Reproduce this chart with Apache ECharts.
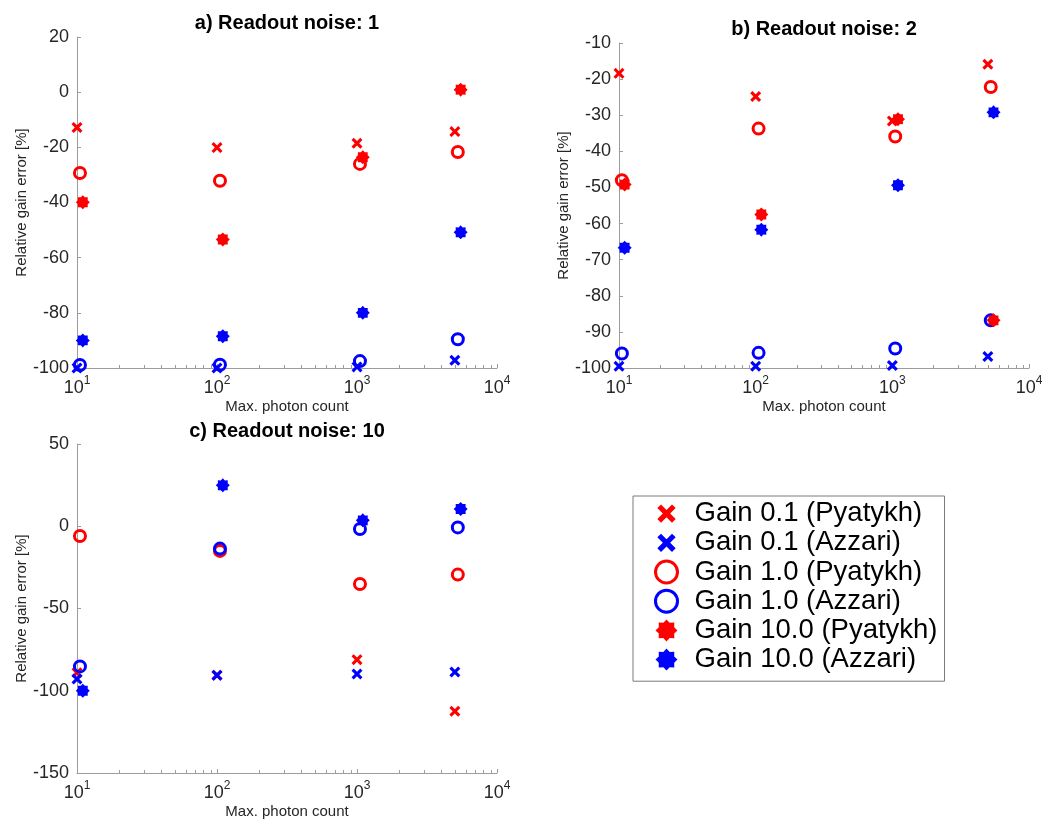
<!DOCTYPE html>
<html>
<head>
<meta charset="utf-8">
<script src="https://cdn.jsdelivr.net/npm/echarts@6/dist/echarts.min.js"></script>
<style>
  html, body { margin: 0; padding: 0; background: #fff; }
  #main { width: 1046px; height: 821px; }
</style>
</head>
<body>
<div id="main"></div>
<script>
var dom = document.getElementById('main');
var myChart = echarts.init(dom);
var option;

// x positions (max. photon count); markers are nudged right per gain so they don't overlap
var photonCounts = [10, 100, 1000, 5000];
var seriesNames = [
    'Gain 0.1 (Pyatykh)', 'Gain 0.1 (Azzari)',
    'Gain 1.0 (Pyatykh)', 'Gain 1.0 (Azzari)',
    'Gain 10.0 (Pyatykh)', 'Gain 10.0 (Azzari)'
];
var xNudge = [1, 1, 1.05, 1.05, 1.1, 1.1];

// a) readout noise 1
var n1Gain01Pyatykh = [-12.8, -20.1, -18.5, -14.3];
var n1Gain01Azzari = [-100, -100, -99.6, -97.2];
var n1Gain1Pyatykh = [-29.3, -32.1, -26.0, -21.7];
var n1Gain1Azzari = [-98.9, -98.8, -97.5, -89.6];
var n1Gain10Pyatykh = [-39.9, -53.4, -23.6, 0.9];
var n1Gain10Azzari = [-90, -88.5, -80, -50.8];

// b) readout noise 2
var n2Gain01Pyatykh = [-18.4, -24.8, -31.6, -15.9];
var n2Gain01Azzari = [-99.5, -99.5, -99.3, -96.8];
var n2Gain1Pyatykh = [-48, -33.7, -35.9, -22.2];
var n2Gain1Azzari = [-96, -95.8, -94.6, -86.8];
var n2Gain10Pyatykh = [-49.2, -57.5, -31.1, -86.8];
var n2Gain10Azzari = [-66.7, -61.7, -49.4, -29.2];

// c) readout noise 10 (gain 10 Pyatykh not visible in the plot)
var n10Gain01Pyatykh = [-89, -90.6, -81.1, -112.5];
var n10Gain01Azzari = [-92.9, -90.6, -89.8, -88.6];
var n10Gain1Pyatykh = [-5.9, -15, -35.1, -29.4];
var n10Gain1Azzari = [-85.2, -13.6, -1.7, -0.7];
var n10Gain10Pyatykh = ['-', '-', '-', '-'];
var n10Gain10Azzari = [-100, 24.9, 3.6, 10.5];

var panelTitles = ['a) Readout noise: 1', 'b) Readout noise: 2', 'c) Readout noise: 10'];
var yMins = [-100, -100, -150];
var yMaxs = [20, -10, 50];
var yIntervals = [20, 10, 50];

var panels = [
    [n1Gain01Pyatykh, n1Gain01Azzari, n1Gain1Pyatykh, n1Gain1Azzari, n1Gain10Pyatykh, n1Gain10Azzari],
    [n2Gain01Pyatykh, n2Gain01Azzari, n2Gain1Pyatykh, n2Gain1Azzari, n2Gain10Pyatykh, n2Gain10Azzari],
    [n10Gain01Pyatykh, n10Gain01Azzari, n10Gain1Pyatykh, n10Gain1Azzari, n10Gain10Pyatykh, n10Gain10Azzari]
];

var FONT = '"Liberation Sans", Arial, Helvetica, sans-serif';
var AXIS_COLOR = '#9c9c9c';
var TEXT_COLOR = '#262626';
var RED = '#ff0000';
var BLUE = '#0000ff';

// marker shapes
var crossShape = 'M0,2 L2,0 L5,3 L8,0 L10,2 L7,5 L10,8 L8,10 L5,7 L2,10 L0,8 L3,5 Z';
var crossPath = 'path://' + crossShape;
// same cross with some empty margin so it stays smaller in the legend
var crossLegendPath = 'path://M-1,-1 M11,11 ' + crossShape;
function starPath(n, rIn) {
    var d = '';
    for (var i = 0; i < 2 * n; i++) {
        var r = i % 2 ? rIn : 1;
        var a = Math.PI * i / n - Math.PI / 2;
        d += (i ? 'L' : 'M') + (10 + 10 * r * Math.cos(a)).toFixed(2) + ',' + (10 + 10 * r * Math.sin(a)).toFixed(2) + ' ';
    }
    return 'path://' + d + 'Z';
}
var asteriskPath = starPath(8, 0.76);

var markerStyles = [
    { symbol: crossPath, symbolSize: 11, itemStyle: { color: RED, opacity: 1 } },
    { symbol: crossPath, symbolSize: 11, itemStyle: { color: BLUE, opacity: 1 } },
    { symbol: 'circle', symbolSize: 11, itemStyle: { color: 'rgba(0,0,0,0)', borderColor: RED, borderWidth: 3, opacity: 1 } },
    { symbol: 'circle', symbolSize: 11, itemStyle: { color: 'rgba(0,0,0,0)', borderColor: BLUE, borderWidth: 3, opacity: 1 } },
    { symbol: asteriskPath, symbolSize: 14, itemStyle: { color: RED, opacity: 1 } },
    { symbol: asteriskPath, symbolSize: 14, itemStyle: { color: BLUE, opacity: 1 } }
];

// log-axis minor tick positions (2..9 per decade)
var minorTicks = [];
for (var dec = 10; dec < 10000; dec *= 10) {
    for (var m = 2; m <= 9; m++) minorTicks.push(dec * m);
}

var grids = [
    { left: 77, top: 37, width: 420, height: 331 },
    { left: 619, top: 43, width: 410, height: 325 },
    { left: 77, top: 444, width: 420, height: 329 }
];
var titleSpots = [
    { left: 287, top: 13 },
    { left: 824, top: 19 },
    { left: 287, top: 421 }
];

var xAxes = [], yAxes = [], series = [], titles = [];
grids.forEach(function (g, p) {
    g.outerBoundsMode = 'none';
    titles.push({
        text: panelTitles[p],
        left: titleSpots[p].left,
        top: titleSpots[p].top,
        textAlign: 'center',
        padding: 0,
        textStyle: { fontFamily: FONT, fontSize: 20, fontWeight: 'bold', color: '#000' }
    });
    xAxes.push({
        type: 'log',
        logBase: 10,
        gridIndex: p,
        min: 10,
        max: 10000,
        name: 'Max. photon count',
        nameLocation: 'middle',
        nameGap: 31,
        nameTextStyle: { fontFamily: FONT, fontSize: 15, color: TEXT_COLOR, verticalAlign: 'top' },
        axisLine: { onZero: false, lineStyle: { color: AXIS_COLOR, width: 1 } },
        axisTick: { inside: true, length: 4, lineStyle: { color: AXIS_COLOR } },
        splitLine: { show: false },
        axisLabel: {
            margin: 7,
            color: TEXT_COLOR,
            fontFamily: FONT,
            formatter: function (v) {
                return '{b|10}{s|' + Math.round(Math.log(v) / Math.LN10) + '}';
            },
            rich: {
                b: { fontFamily: FONT, fontSize: 18, lineHeight: 22, color: TEXT_COLOR, verticalAlign: 'bottom' },
                s: { fontFamily: FONT, fontSize: 12, lineHeight: 12, color: TEXT_COLOR, verticalAlign: 'top' }
            }
        }
    });
    yAxes.push({
        type: 'value',
        gridIndex: p,
        min: yMins[p],
        max: yMaxs[p],
        interval: yIntervals[p],
        name: 'Relative gain error [%]',
        nameLocation: 'middle',
        nameGap: 47,
        nameTextStyle: { fontFamily: FONT, fontSize: 15, color: TEXT_COLOR },
        axisLine: { show: true, onZero: false, lineStyle: { color: AXIS_COLOR, width: 1 } },
        axisTick: { show: true, inside: true, length: 4, lineStyle: { color: AXIS_COLOR } },
        splitLine: { show: false },
        axisLabel: { margin: 8, fontFamily: FONT, fontSize: 18, color: TEXT_COLOR }
    });
    series.push({
        type: 'custom',
        xAxisIndex: p,
        yAxisIndex: p,
        silent: true,
        data: minorTicks.map(function (t) { return [t, yMins[p]]; }),
        encode: { x: 0, y: 1 },
        renderItem: function (params, api) {
            var pt = api.coord([api.value(0), api.value(1)]);
            var x = Math.round(pt[0]) + 0.5;
            return {
                type: 'line',
                shape: { x1: x, y1: pt[1], x2: x, y2: pt[1] - 3 },
                style: { stroke: AXIS_COLOR, lineWidth: 1 }
            };
        }
    });
    panels[p].forEach(function (vals, s) {
        var st = markerStyles[s];
        series.push({
            type: 'scatter',
            name: seriesNames[s],
            xAxisIndex: p,
            yAxisIndex: p,
            clip: false,
            symbol: st.symbol,
            symbolSize: st.symbolSize,
            itemStyle: st.itemStyle,
            emphasis: { disabled: true },
            data: photonCounts.map(function (x, i) {
                return [x * xNudge[s], vals[i]];
            })
        });
    });
});

option = {
    animation: false,
    backgroundColor: '#fff',
    title: titles,
    grid: grids,
    xAxis: xAxes,
    yAxis: yAxes,
    legend: {
        orient: 'vertical',
        left: 633,
        top: 496,
        padding: [3, 7, 7, 21],
        itemGap: 0,
        itemWidth: 22,
        itemHeight: 22,
        borderColor: '#7a7a7a',
        borderWidth: 1,
        backgroundColor: '#fff',
        textStyle: {
            fontFamily: FONT,
            fontSize: 27.5,
            lineHeight: 29.2,
            color: '#000',
            padding: [0, 0, 0, 12]
        },
        data: seriesNames.map(function (n, i) {
            var d = { name: n, itemStyle: { opacity: 1 } };
            if (i < 2) d.icon = crossLegendPath;
            if (i === 2 || i === 3) d.itemStyle.borderWidth = 3;
            return d;
        })
    },
    series: series
};

myChart.setOption(option);
</script>
</body>
</html>
